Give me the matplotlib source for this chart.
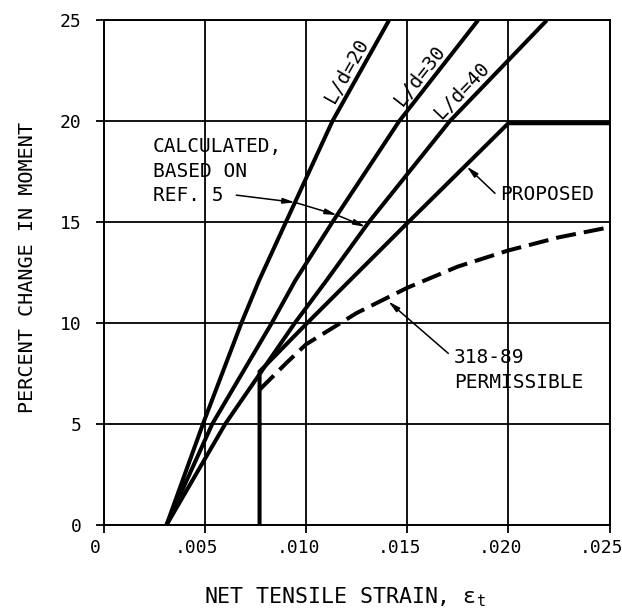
import numpy as np
import matplotlib
matplotlib.use("Agg")
import matplotlib.pyplot as plt
from matplotlib.transforms import ScaledTranslation

# ---- data ----
ld20_x = [0.0031, 0.0049, 0.0068, 0.00767, 0.0090, 0.0113, 0.0141]
ld20_y = [0, 5, 10, 12.1, 15, 20, 25]
ld30_x = [0.0031, 0.00536, 0.0083, 0.00946, 0.0113, 0.0146, 0.0185]
ld30_y = [0, 5, 10, 12.1, 15, 20, 25]
ld40_x = [0.0031, 0.0060, 0.00944, 0.0110, 0.0131, 0.0171, 0.0219]
ld40_y = [0, 5, 10, 12.1, 15, 20, 25]
proposed_x = [0.0077, 0.0077, 0.010, 0.015, 0.020, 0.025]
proposed_y = [0, 7.6, 9.95, 14.95, 19.9, 19.9]
aci_x = [0.0077, 0.0090, 0.010, 0.0125, 0.015, 0.0175, 0.020, 0.0225, 0.025]
aci_y = [6.7, 8.0, 8.95, 10.5, 11.75, 12.8, 13.6, 14.25, 14.75]

x_ticks = [0, 0.005, 0.010, 0.015, 0.020, 0.025]
x_ticklabels = ["0", ".005", ".010", ".015", ".020", ".025"]
y_ticks = [0, 5, 10, 15, 20, 25]
y_ticklabels = ["0", "5", "10", "15", "20", "25"]

FONT = "DejaVu Sans Mono"
plt.rcParams["font.family"] = FONT

fig = plt.figure(figsize=(6.22, 6.13), dpi=100)
ax = fig.add_axes([103.8 / 622, 1 - 525 / 613, (609.5 - 103.8) / 622, (525 - 20.3) / 613])

LW = 2.9
ax.plot(ld20_x, ld20_y, color="black", lw=LW, solid_capstyle="butt", zorder=3)
ax.plot(ld30_x, ld30_y, color="black", lw=LW, solid_capstyle="butt", zorder=3)
ax.plot(ld40_x, ld40_y, color="black", lw=LW, solid_capstyle="butt", zorder=3)
ax.plot(proposed_x, proposed_y, color="black", lw=LW, solid_joinstyle="miter", zorder=3)
ax.plot(aci_x, aci_y, color="black", lw=LW, dashes=(5, 2), zorder=3)

ax.set_xlim(0, 0.025)
ax.set_ylim(0, 25)
ax.set_xticks(x_ticks)
ax.set_xticklabels(x_ticklabels)
ax.set_yticks(y_ticks)
ax.set_yticklabels(y_ticklabels)
ax.grid(True, color="black", lw=1.3, zorder=1)
for s in ax.spines.values():
    s.set_linewidth(1.4)
ax.tick_params(axis="both", direction="out", length=6, width=1.3, labelsize=13, colors="black")
ax.tick_params(axis="y", pad=10)
ax.tick_params(axis="x", pad=4)
off = ScaledTranslation(-8 / 100, 0, fig.dpi_scale_trans)
for lab in ax.get_xticklabels():
    lab.set_transform(lab.get_transform() + off)

# axis labels
fig.text(28 / 622, 1 - 268 / 613, "PERCENT CHANGE IN MOMENT", rotation=90,
         ha="center", va="center", fontsize=14.5)
fig.text(345 / 622, 1 - 597 / 613, "NET TENSILE STRAIN, ε$_{\\mathregular{t}}$",
         ha="center", va="center", fontsize=15.5)


# curve labels, placed just above-left of each line, parallel to it
def line_label(xs, ys, yc, text, gap_px=6.5):
    xc = np.interp(yc, ys, xs)
    p1 = ax.transData.transform((np.interp(yc - 1, ys, xs), yc - 1))
    p2 = ax.transData.transform((np.interp(yc + 1, ys, xs), yc + 1))
    ang = np.arctan2(p2[1] - p1[1], p2[0] - p1[0])
    d = gap_px * 72 / 100
    ax.annotate(text, xy=(xc, yc), xytext=(-np.sin(ang) * d, np.cos(ang) * d),
                textcoords="offset points", rotation=np.degrees(ang),
                rotation_mode="anchor", ha="center", va="baseline", fontsize=14)


line_label(ld20_x, ld20_y, 22.2, "L/d=20")
line_label(ld30_x, ld30_y, 21.9, "L/d=30")
line_label(ld40_x, ld40_y, 21.1, "L/d=40")

# calculated annotation
for txt, yy in [("CALCULATED,", 18.74), ("BASED ON", 17.5), ("REF. 5", 16.34)]:
    ax.text(0.00243, yy, txt, ha="left", va="center", fontsize=14)

aprops = dict(arrowstyle="-|>,head_length=0.7,head_width=0.16", color="black",
              lw=1.1, shrinkA=0, shrinkB=0)
start = (0.00655, 16.34)
t1y, t2y, t3y = 15.98, 15.35, 14.77
tip1 = (np.interp(t1y, ld20_y, ld20_x), t1y)
tip2 = (np.interp(t2y, ld30_y, ld30_x), t2y)
tip3 = (np.interp(t3y, ld40_y, ld40_x), t3y)
ax.annotate("", xy=tip1, xytext=start, arrowprops=aprops, zorder=4)
ax.annotate("", xy=tip2, xytext=tip1, arrowprops=aprops, zorder=4)
ax.annotate("", xy=tip3, xytext=tip2, arrowprops=aprops, zorder=4)

# proposed
ax.text(0.0196, 16.37, "PROPOSED", ha="left", va="center", fontsize=14)
px_tip = 0.01794
ax.annotate("", xy=(px_tip, np.interp(px_tip, proposed_x[1:], proposed_y[1:]) - 0.1),
            xytext=(0.01934, 16.43), arrowprops=aprops, zorder=4)

# 318-89
ax.text(0.01731, 8.30, "318-89", ha="left", va="center", fontsize=14)
ax.text(0.01731, 7.08, "PERMISSIBLE", ha="left", va="center", fontsize=14)
ax_tip = 0.01406
ax.annotate("", xy=(ax_tip, np.interp(ax_tip, aci_x, aci_y) - 0.2),
            xytext=(0.01703, 8.5), arrowprops=aprops, zorder=4)

fig.savefig("out.png", dpi=100, facecolor="white")
